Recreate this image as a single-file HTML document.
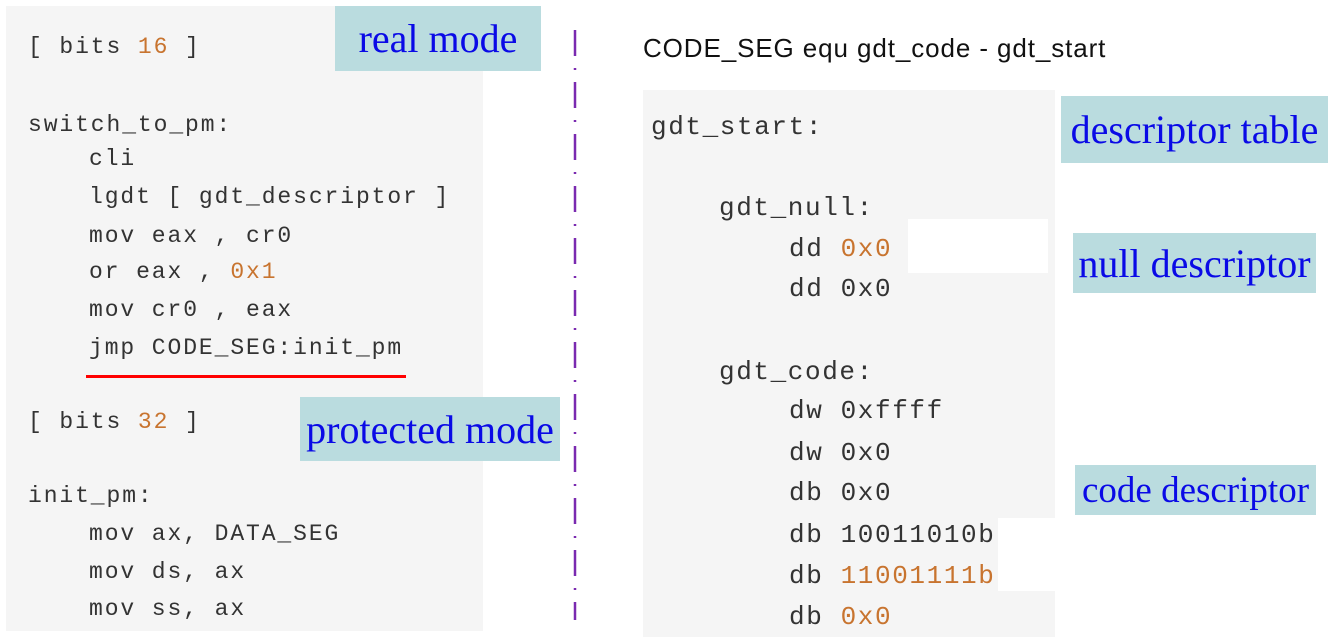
<!DOCTYPE html>
<html><head><style>
body{margin:0;width:1328px;height:637px;background:#fff;position:relative;overflow:hidden}
.p{position:absolute;background:#f5f5f5}
.c{position:absolute;font-family:"Liberation Mono",monospace;font-size:23px;letter-spacing:1.9px;color:#333;white-space:pre;line-height:1}
.r{font-size:26px;letter-spacing:1.6px}
.o{color:#c8742f}
.l{position:absolute;background:#badcdf;font-family:"Liberation Serif",serif;color:#0a0ae6;font-size:40px;display:flex;align-items:center;justify-content:center;white-space:nowrap}
</style></head><body>
<div class="p" style="left:6px;top:6px;width:477px;height:625px"></div>
<div class="p" style="left:643px;top:90px;width:412px;height:547px"></div>
<div style="position:absolute;left:908px;top:219px;width:140px;height:54px;background:#fff"></div>
<div style="position:absolute;left:998px;top:518px;width:57px;height:73px;background:#fff"></div>

<div class="c" style="left:28px;top:36px">[ bits <span class="o">16</span> ]</div>
<div class="c" style="left:28px;top:114px">switch_to_pm:</div>
<div class="c" style="left:89px;top:148px">cli</div>
<div class="c" style="left:89px;top:186px">lgdt [ gdt_descriptor ]</div>
<div class="c" style="left:89px;top:225px">mov eax , cr0</div>
<div class="c" style="left:89px;top:261px">or eax , <span class="o">0x1</span></div>
<div class="c" style="left:89px;top:299px">mov cr0 , eax</div>
<div class="c" style="left:89px;top:337px">jmp CODE_SEG:init_pm</div>
<div style="position:absolute;left:86px;top:375px;width:320px;height:3px;background:#f00"></div>
<div class="c" style="left:28px;top:411px">[ bits <span class="o">32</span> ]</div>
<div class="c" style="left:28px;top:485px">init_pm:</div>
<div class="c" style="left:89px;top:523px">mov ax, DATA_SEG</div>
<div class="c" style="left:89px;top:561px">mov ds, ax</div>
<div class="c" style="left:89px;top:598px">mov ss, ax</div>

<div class="l" style="left:335px;top:6px;width:206px;height:65px">real mode</div>
<div class="l" style="left:300px;top:397px;width:260px;height:64px">protected mode</div>

<svg style="position:absolute;left:565px;top:25px" width="20" height="600"><line x1="10" y1="5" x2="10" y2="595" stroke="#7a2ab0" stroke-width="2.5" stroke-dasharray="26,12,2,12"/></svg>

<div style="position:absolute;left:643px;top:33px;font-family:'Liberation Sans',sans-serif;font-size:26px;letter-spacing:0.9px;color:#111;white-space:nowrap">CODE_SEG equ gdt_code - gdt_start</div>

<div class="c r" style="left:651px;top:114px">gdt_start:</div>
<div class="c r" style="left:719px;top:195px">gdt_null:</div>
<div class="c r" style="left:789px;top:236px">dd <span class="o">0x0</span></div>
<div class="c r" style="left:789px;top:276px">dd 0x0</div>
<div class="c r" style="left:719px;top:359px">gdt_code:</div>
<div class="c r" style="left:789px;top:398px">dw 0xffff</div>
<div class="c r" style="left:789px;top:440px">dw 0x0</div>
<div class="c r" style="left:789px;top:480px">db 0x0</div>
<div class="c r" style="left:789px;top:522px">db 10011010b</div>
<div class="c r" style="left:789px;top:563px">db <span class="o">11001111b</span></div>
<div class="c r" style="left:789px;top:604px">db <span class="o">0x0</span></div>

<div class="l" style="left:1061px;top:96px;width:267px;height:67px">descriptor table</div>
<div class="l" style="left:1073px;top:233px;width:243px;height:60px">null descriptor</div>
<div class="l" style="left:1075px;top:465px;width:241px;height:50px;font-size:37px">code descriptor</div>
</body></html>
